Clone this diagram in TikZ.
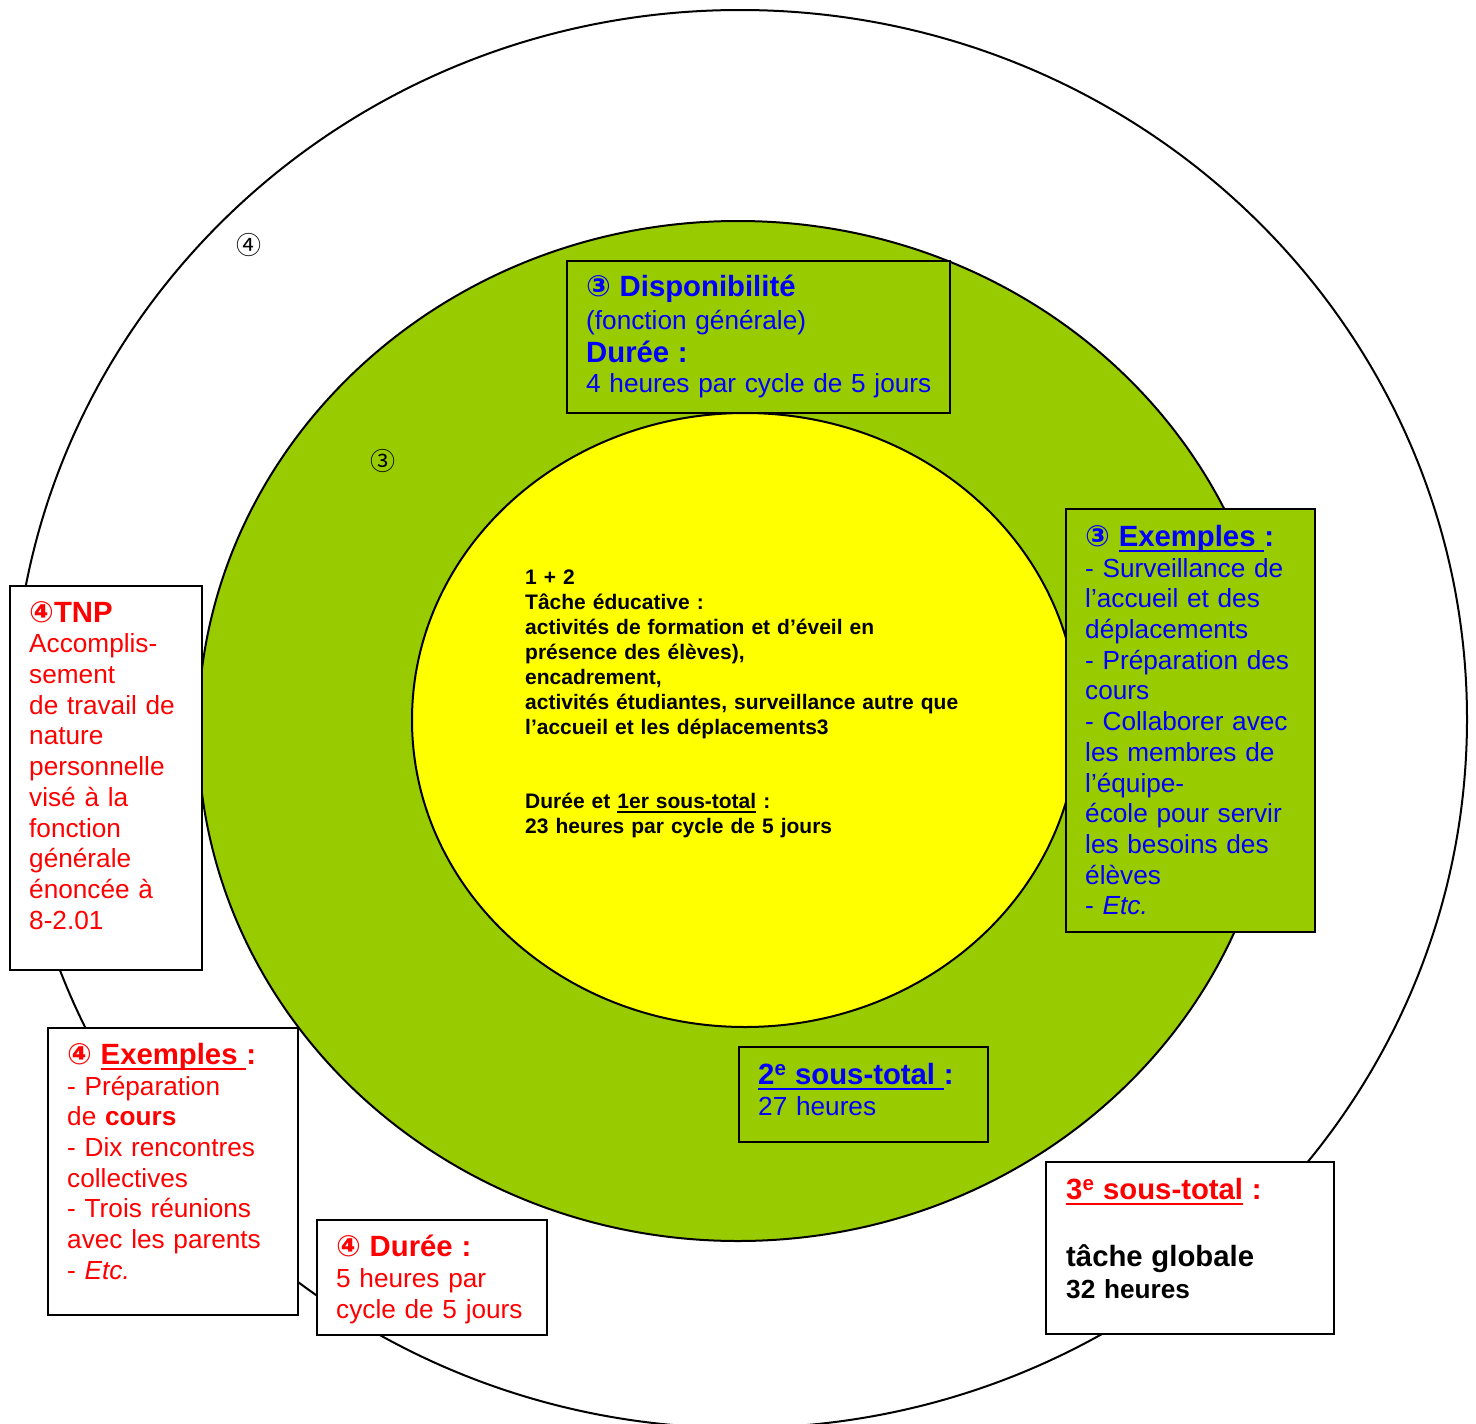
\documentclass[tikz,border=0pt]{standalone}
\usepackage{fontspec}
\setmainfont{Liberation Sans}
\newfontfamily\dejavu{DejaVu Sans}
\newfontfamily\cjk{Noto Sans CJK SC}
\definecolor{lgreen}{HTML}{99CC00}
\definecolor{yel}{HTML}{FFFF00}
\definecolor{blu}{HTML}{0000FF}
\definecolor{rd}{HTML}{FF0000}
\newsavebox\myulbox
\newcommand\myul[1]{\sbox\myulbox{#1}\rlap{\rule[-0.2em]{\wd\myulbox}{0.095em}}\usebox\myulbox}
\newcommand\hdf{\bfseries\fontsize{29.3}{33.7}\selectfont}
\newcommand\bdf{\fontsize{26.2}{30.7}\selectfont}
\newcommand\smf{\fontsize{21}{24.9}\selectfont}
\newcommand\cd[1]{{\dejavu #1}}
\tikzset{
  frame/.style={draw=black, line width=2.4pt, anchor=north west, inner sep=0pt},
  ring/.style={draw=black, line width=2pt},
  txt/.style={anchor=north west, inner sep=0pt, text width=#1, font=\bdf},
  cmark/.style={inner sep=0pt, font=\cjk\fontsize{25}{26}\selectfont},
}
\begin{document}
\begin{tikzpicture}[x=1pt,y=-1pt]
\clip (0,0) rectangle (1476,1424);
\fill[white] (0,0) rectangle (1476,1424);
% rings
\draw[ring, fill=white] (740,719) ellipse [x radius=727, y radius=709];
\draw[ring, fill=lgreen] (738,731) ellipse [x radius=540, y radius=510];
\draw[ring, fill=yel] (745,720) ellipse [x radius=333, y radius=307];
% small circled marks
\node[cmark] (m4) at (249,245) {④};
\node[cmark] (m3) at (383,461) {③};
% central text
\node[txt=480pt, font=\smf\bfseries] (core) at (525,570) {%
1 + 2\\
Tâche éducative :\\
activités de formation et d’éveil en\\
présence des élèves),\\
encadrement,\\
activités étudiantes, surveillance autre que\\
l’accueil et les déplacements3\\[49.8pt]
Durée et \myul{1er sous-total} :\\
23 heures par cycle de 5 jours};
% Disponibilite box
\node[frame, fill=lgreen, minimum width=383pt, minimum height=152pt] (dispo) at (566,260) {};
\node[txt=360pt, text=blu] (dispoT) at (586,275) {%
{\hdf\cd{③} Disponibilité}\\[2pt]
(fonction générale)\\[2pt]
{\hdf Durée :}\\
4 heures par cycle de 5 jours};
% Exemples 3 box
\node[frame, fill=lgreen, minimum width=249pt, minimum height=423pt] (ex3) at (1065,508) {};
\node[txt=228pt, text=blu] (ex3T) at (1085,525) {%
{\hdf\cd{③} \myul{Exemples }:}\\
- Surveillance de\\
l’accueil et des\\
déplacements\\
- Préparation des\\
cours\\
- Collaborer avec\\
les membres de\\
l’équipe-\\
école pour servir\\
les besoins des\\
élèves\\
- \textit{Etc.}};
% TNP box
\node[frame, fill=white, minimum width=192pt, minimum height=384pt] (tnp) at (9,585) {};
\node[txt=170pt, text=rd] (tnpT) at (29,601) {%
{\hdf\cd{④}TNP}\\
Accomplis-\\
sement\\
de travail de\\
nature\\
personnelle\\
visé à la\\
fonction\\
générale\\
énoncée à\\
8-2.01};
% Exemples 4 box
\node[frame, fill=white, minimum width=250pt, minimum height=287pt] (ex4) at (47,1027) {};
\node[txt=228pt, text=rd] (ex4T) at (67,1043) {%
{\hdf\cd{④} \myul{Exemples }:}\\
- Préparation\\
de \textbf{cours}\\
- Dix rencontres\\
collectives\\
- Trois réunions\\
avec les parents\\
- \textit{Etc.}};
% Duree 4 box
\node[frame, fill=white, minimum width=230pt, minimum height=115pt] (dur4) at (316,1219) {};
\node[txt=210pt, text=rd] (dur4T) at (336,1235) {%
{\hdf\cd{④} Durée :}\\
5 heures par\\
cycle de 5 jours};
% 2e sous-total
\node[frame, fill=lgreen, minimum width=249pt, minimum height=95pt] (st2) at (738,1046) {};
\node[txt=228pt, text=blu] (st2T) at (758,1063) {%
{\hdf\myul{2\textsuperscript{e} sous-total }:}\\
27 heures};
% 3e sous-total
\node[frame, fill=white, minimum width=288pt, minimum height=172pt] (st3) at (1045,1161) {};
\node[txt=265pt] (st3T) at (1066,1178) {%
{\hdf\color{rd}\myul{3\textsuperscript{e} sous-total} :}\\[36pt]
{\hdf tâche globale}\\[2pt]
{\bfseries 32 heures}};
\end{tikzpicture}
\end{document}
